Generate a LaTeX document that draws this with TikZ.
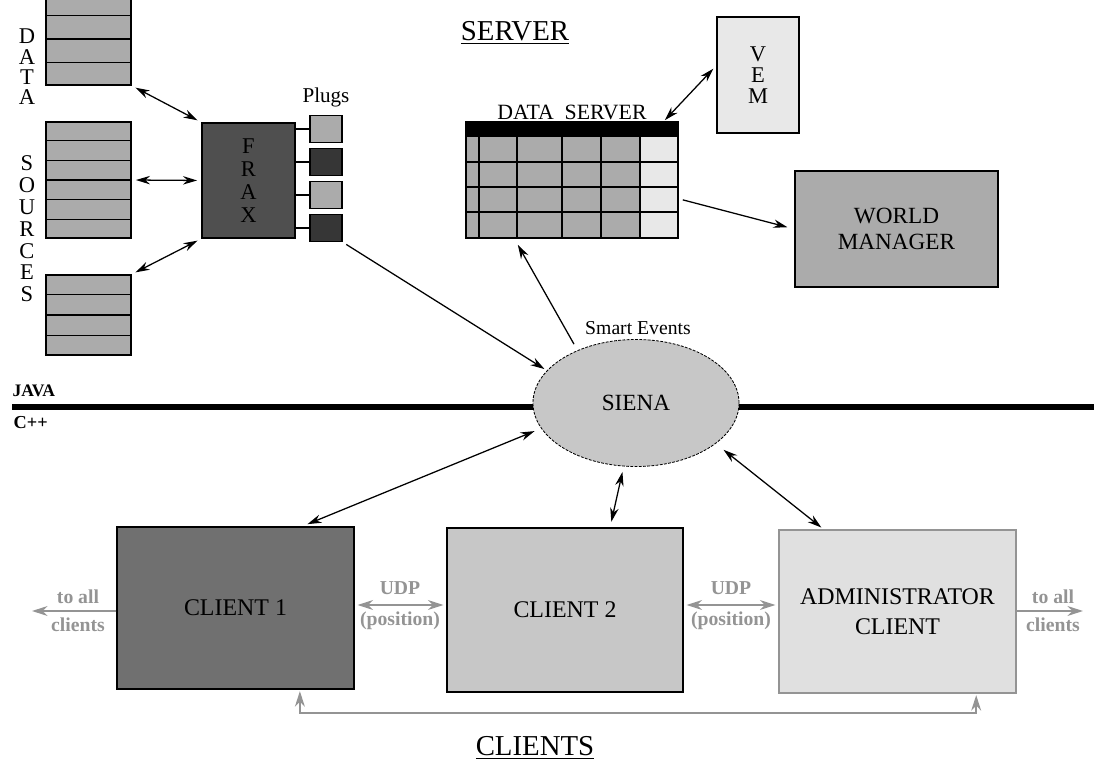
\documentclass[tikz,border=0pt]{standalone}
\usepackage{fontspec}
\setmainfont{Liberation Serif}
\usetikzlibrary{arrows.meta,shapes.geometric,calc}

\definecolor{stackgray}{gray}{0.67}
\definecolor{fraxgray}{gray}{0.31}
\definecolor{plugdark}{gray}{0.21}
\definecolor{lightcell}{gray}{0.91}
\definecolor{sienagray}{gray}{0.78}
\definecolor{clientone}{gray}{0.44}
\definecolor{clienttwo}{gray}{0.78}
\definecolor{adminfill}{gray}{0.88}
\definecolor{udpgray}{gray}{0.58}

\begin{document}
\begin{tikzpicture}[x=0.025cm,y=-0.025cm,>={Stealth[length=10pt,width=6pt]},
  line width=0.9pt,
  box/.style={rectangle,draw,line width=1pt,inner sep=0pt},
  stack/.style={box,fill=stackgray,minimum width=2.125cm},
  plug/.style={box,minimum width=0.8cm,minimum height=0.675cm},
  client/.style={box,minimum width=5.925cm,minimum height=4.075cm,
    font=\fontsize{17}{21}\selectfont,align=center},
  letters/.style={align=center,inner sep=0pt,font=\fontsize{16}{15.5}\selectfont},
  grey link/.style={draw=udpgray,line width=1.4pt,>={Stealth[length=11pt,width=7pt]}},
  grey text/.style={text=udpgray,align=center,inner sep=0pt,
    font=\fontsize{14}{17}\selectfont\bfseries}]

  \useasboundingbox (0,0) rectangle (1094,761);
  \clip (0,0) rectangle (1094,761);

  % data sources
  \node[stack,minimum height=2.3cm] (ds1) at (88.5,39) {};
  \node[stack,minimum height=2.9cm] (ds2) at (88.5,180) {};
  \node[stack,minimum height=2cm] (ds3) at (88.5,315) {};
  \foreach \f in {1,2,3} {
    \draw ($(ds1.north west)!\f/4!(ds1.south west)$) -- ($(ds1.north east)!\f/4!(ds1.south east)$);
    \draw ($(ds3.north west)!\f/4!(ds3.south west)$) -- ($(ds3.north east)!\f/4!(ds3.south east)$);
  }
  \foreach \f in {1,...,5}
    \draw ($(ds2.north west)!\f/6!(ds2.south west)$) -- ($(ds2.north east)!\f/6!(ds2.south east)$);
  \node[letters,font=\fontsize{16}{14.5}\selectfont] (lbldata) at (27,67) {D\\A\\T\\A};
  \node[letters] (lblsources) at (27,229) {S\\O\\U\\R\\C\\E\\S};

  % frax and plugs
  \node[box,fill=fraxgray,minimum width=2.325cm,minimum height=2.875cm,
    letters,font=\fontsize{16}{16.5}\selectfont] (frax) at (248.5,180.5) {F\\R\\A\\X};
  \foreach \y/\c [count=\i] in {129/stackgray,162/plugdark,195/stackgray,228/plugdark} {
    \node[plug,fill=\c] (plug\i) at (326,\y) {};
    \draw (frax.east |- plug\i) -- (plug\i.west);
  }
  \node[font=\fontsize{15}{15}\selectfont] (plugs) at (326,97) {Plugs};

  % server side
  \node[font=\fontsize{20.5}{21}\selectfont] (server) at (515,33) {\underline{SERVER}};
  \fill[stackgray] (466,137) rectangle (640,238);
  \fill[lightcell] (640,137) rectangle (678,238);
  \fill (466,122) rectangle (678,137);
  \foreach \x in {479,517,562,601,640}
    \draw (\x,137) -- (\x,238);
  \foreach \y in {162,187,212}
    \draw (466,\y) -- (678,\y);
  \node[box,minimum width=5.3cm,minimum height=2.9cm] (dserver) at (572,180) {};
  \node[font=\fontsize{15.5}{16}\selectfont] (dslabel) at (572,112) {DATA\ \ SERVER};

  \node[box,fill=lightcell,minimum width=2.05cm,minimum height=2.9cm,
    letters,font=\fontsize{16}{15}\selectfont] (vem) at (758,75) {V\\E\\M};
  \node[box,fill=stackgray,minimum width=5.075cm,minimum height=2.9cm,align=center,
    font=\fontsize{16.5}{18.5}\selectfont] (wm) at (896.5,229) {WORLD\\MANAGER};

  % language border and siena
  \coordinate (javaL) at (12,407);
  \coordinate (javaR) at (1094,407);
  \draw[line width=3.6pt] (javaL) -- (javaR);
  \node[anchor=west,inner sep=0pt,font=\fontsize{12.5}{13}\selectfont\bfseries] (java) at (12,391) {JAVA};
  \node[anchor=west,inner sep=0pt,font=\fontsize{13}{13}\selectfont\bfseries] (cpp) at (13,423) {C++};
  \node[ellipse,draw,fill=sienagray,line width=0.6pt,dash pattern=on 2pt off 1pt,
    minimum width=5.15cm,minimum height=3.175cm,
    font=\fontsize{16.5}{17}\selectfont] (siena) at (636,403) {SIENA};
  \node[font=\fontsize{14}{14}\selectfont] (smart) at (638,328) {Smart Events};

  % clients
  \node[client,fill=clientone,minimum height=4.05cm] (client1) at (235.5,608) {CLIENT 1};
  \node[client,fill=clienttwo,minimum width=5.9cm,minimum height=4.1cm] (client2) at (565,610) {CLIENT 2};
  \node[client,fill=adminfill,draw=udpgray] (admin) at (897.5,611.5) {ADMINISTRATOR\\CLIENT};
  \node[font=\fontsize{20.5}{21}\selectfont] (clients) at (535,748) {\underline{CLIENTS}};

  % anchor points on the box edges
  \coordinate (dsbottom) at ($(dserver.south west)!.23!(dserver.south east)$);
  \coordinate (dstop) at ($(dserver.north west)!.93!(dserver.north east)$);
  \coordinate (dsright) at ($(dserver.north east)!.66!(dserver.south east)$);
  \coordinate (vemside) at ($(vem.north west)!.42!(vem.south west)$);
  \coordinate (c1top) at ($(client1.north west)!.78!(client1.north east)$);
  \coordinate (c2top) at ($(client2.north west)!.69!(client2.north east)$);
  \coordinate (admtop) at ($(admin.north west)!.19!(admin.north east)$);
  \coordinate (c1bot) at ($(client1.south west)!.77!(client1.south east)$);
  \coordinate (admbot) at ($(admin.south west)!.83!(admin.south east)$);

  \path[<->,shorten >=3pt,shorten <=3pt]
    (ds1.south east) edge (frax.north west)
    (ds2.east) edge (frax.west)
    (ds3.north east) edge (frax.south west)
    (dstop) edge [shorten <=1pt] (vemside)
    (siena.195) edge [shorten <=5pt,shorten >=4pt] (c1top)
    (siena.259) edge [shorten <=4pt,shorten >=4pt] (c2top)
    (siena.333) edge [shorten <=7pt,shorten >=2pt] (admtop);
  \path[->,shorten >=3pt,shorten <=3pt]
    (plug4.south east) edge [shorten >=2pt] (siena.160)
    (siena.138) edge [shorten <=5pt,shorten >=5pt] (dsbottom)
    (dsright) edge [shorten >=5pt] (wm.west);

  % udp links
  \coordinate (allL) at (32,611);
  \coordinate (allR) at (1083,611);
  \coordinate (udpy) at (0,605);
  \coordinate (loopy) at (0,713);
  \draw[grey link,->] (client1.west |- allL) -- (allL);
  \draw[grey link,->] (admin.east |- allR) -- (allR);
  \draw[grey link,<->,shorten >=2pt,shorten <=2pt] (client1.east |- udpy) -- (client2.west |- udpy);
  \draw[grey link,<->,shorten >=2pt,shorten <=2pt] (client2.east |- udpy) -- (admin.west |- udpy);
  \draw[grey link,<->,shorten >=1pt,shorten <=1pt] (c1bot) -- (c1bot |- loopy) -| (admbot);
  \node[grey text,font=\fontsize{14}{20}\selectfont\bfseries] (toallL) at (78,611) {to all\\clients};
  \node[grey text,font=\fontsize{14}{20}\selectfont\bfseries] (toallR) at (1053,611) {to all\\clients};
  \node[grey text,font=\fontsize{14}{22}\selectfont\bfseries] (udpL) at (400,606) {UDP\\(position)};
  \node[grey text,font=\fontsize{14}{22}\selectfont\bfseries] (udpR) at (731,606) {UDP\\(position)};
\end{tikzpicture}
\end{document}
